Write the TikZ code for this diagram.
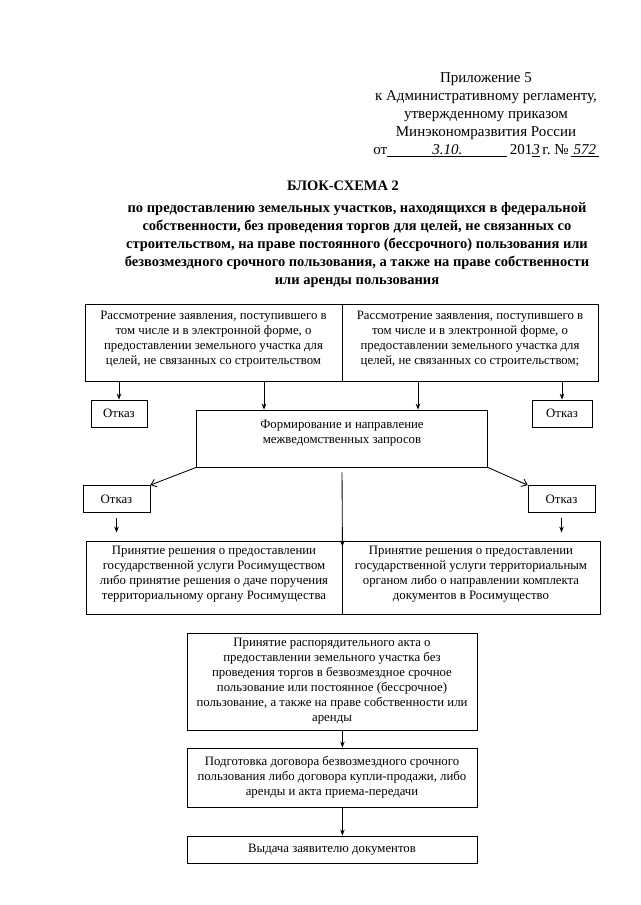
\documentclass[tikz,border=0pt]{standalone}
\usepackage{fontspec}
\setmainfont{Liberation Serif}
\usepackage{tikz}
\usetikzlibrary{arrows.meta,positioning,calc}

\begin{document}
\begin{tikzpicture}[x=1pt, y=-1pt,
  box/.style={draw, line width=0.85pt, inner sep=0pt, align=center, font=\fontsize{12.8}{15}\selectfont},
  otkaz/.style={box, minimum width=60pt, minimum height=27pt},
  arr/.style={-{Stealth[length=6pt,width=4.5pt]}, line width=0.85pt},
  diag/.style={-{Straight Barb[length=5pt,width=8pt]}, line width=0.85pt}]
\useasboundingbox (0,0) rectangle (640,905);
% header
\node[align=center, font=\fontsize{15}{18}\selectfont] (hdr) at (486,115)
  {Приложение 5\\к Административному регламенту,\\утвержденному приказом\\Минэкономразвития России\\
   от\underline{\makebox[120pt][l]{\hspace{45pt}\itshape 3.10.}}\,201\underline{\itshape 3}\,г.~№\,\underline{\itshape\,572\,}};
\node[font=\fontsize{14.5}{18}\selectfont\bfseries] (title) at (343,186) {БЛОК-СХЕМА 2};
\node[align=center, font=\fontsize{14.5}{18}\selectfont\bfseries] (subt) at (357,245)
  {по предоставлению земельных участков, находящихся в федеральной\\
   собственности, без проведения торгов для целей, не связанных со\\
   строительством, на праве постоянного (бессрочного) пользования или\\
   безвозмездного срочного пользования, а также на праве собственности\\
   или аренды пользования};
% boxes
\node[box, minimum width=257pt, minimum height=77pt] (tl) at (213.5,342.5)
  {Рассмотрение заявления, поступившего в\\том числе и в электронной форме, о\\предоставлении земельного участка для\\целей, не связанных со строительством\\[-5pt]};
\node[box, minimum width=256pt, minimum height=77pt] (tr) at (470,342.5)
  {Рассмотрение заявления, поступившего в\\том числе и в электронной форме, о\\предоставлении земельного участка для\\целей, не связанных со строительством;\\[-5pt]};
\node[otkaz, minimum width=56pt] (otka) at (119,413.5) {Отказ};
\node[otkaz] (otkb) at (562,413.5) {Отказ};
\node[box, minimum width=291pt, minimum height=57pt] (form) at (342,438.5)
  {Формирование и направление\\межведомственных запросов\\[-1pt]};
\node[otkaz, minimum width=67pt] (otkc) at (116.5,499) {Отказ};
\node[otkaz, minimum width=67pt] (otkd) at (561.5,499) {Отказ};
\node[box, minimum width=256pt, minimum height=73pt] (dl) at (214,577.5)
  {Принятие решения о предоставлении\\государственной услуги Росимуществом\\либо принятие решения о даче поручения\\территориальному органу Росимущества\\[-5pt]};
\node[box, minimum width=258pt, minimum height=73pt] (dr) at (471,577.5)
  {Принятие решения о предоставлении\\государственной услуги территориальным\\органом либо о направлении комплекта\\документов в Росимущество\\[-5pt]};
\node[box, minimum width=290pt, minimum height=97pt] (akt) at (332,681.5)
  {Принятие распорядительного акта о\\предоставлении земельного участка без\\проведения торгов в безвозмездное срочное\\пользование или постоянное (бессрочное)\\пользование, а также на праве собственности или\\аренды};
\node[box, minimum width=290pt, minimum height=59pt] (dog) at (332,777.5)
  {Подготовка договора безвозмездного срочного\\пользования либо договора купли-продажи, либо\\аренды и акта приема-передачи};
\node[box, minimum width=290pt, minimum height=27pt] (vyd) at (332,849.5)
  {Выдача заявителю документов};
% connectors
\coordinate (fin) at ($(dl.north east)+(0,6)$);
\draw[arr] (otka.north |- tl.south) -- (otka.north);
\draw[arr] (otkb.north |- tr.south) -- (otkb.north);
\draw[arr] ([xshift=-78pt]form.north |- tl.south) -- ([xshift=-78pt]form.north);
\draw[arr] ([xshift=76pt]form.north |- tr.south) -- ([xshift=76pt]form.north);
\draw[diag] (form.south west) -- (otkc.north east);
\draw[diag] (form.south east) -- (otkd.north west);
\draw[arr, shorten <=5pt] (form.south) -- (fin);
\draw[arr, shorten <=5pt, shorten >=8pt] (otkc.south) -- (otkc.south |- dl.north);
\draw[arr, shorten <=5pt, shorten >=8pt] (otkd.south) -- (otkd.south |- dr.north);
\draw[arr] (akt.south -| dl.east) -- (dog.north -| dl.east);
\draw[arr] (dog.south -| dl.east) -- (vyd.north -| dl.east);
\end{tikzpicture}
\end{document}
